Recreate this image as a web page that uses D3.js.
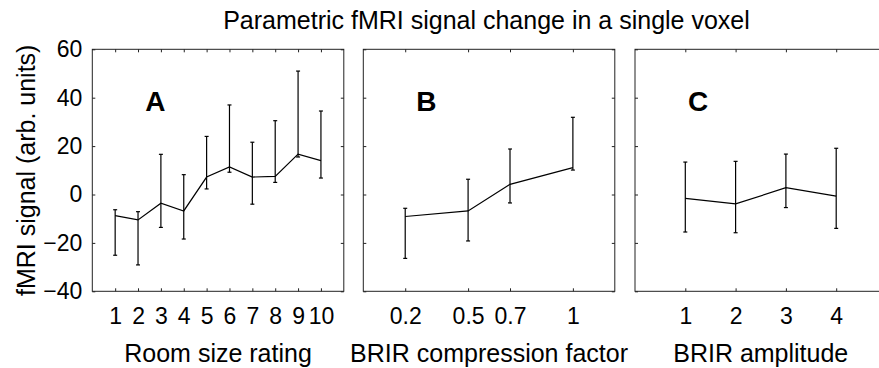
<!DOCTYPE html>
<html>
<head>
<meta charset="utf-8">
<script src="https://cdn.jsdelivr.net/npm/d3@7"></script>
<style>
  html, body { margin: 0; padding: 0; background: #fff; }
  svg { display: block; font-family: "Liberation Sans", Arial, Helvetica, sans-serif; }
  .axis path.domain { display: none; }
  .axis line { stroke: #222; }
  .axis text { fill: #000; font-size: 23px; }
</style>
</head>
<body>
<svg id="chart" width="879" height="368"></svg>
<script>
const roomRating = [1, 2, 3, 4, 5, 6, 7, 8, 9, 10];
const roomMean  = [-8.7, -10.5, -3.6, -6.8, 7.2, 11.4, 7.2, 7.5, 16.7, 14.0];
const roomUpper = [-6.3, -7.1, 16.6, 8.2, 24.0, 37.0, 21.6, 30.5, 51.0, 34.5];
const roomLower = [-25.1, -29.1, -13.6, -18.4, 2.3, 9.2, -4.0, 5.0, 15.5, 6.8];

const compression = [0.2, 0.5, 0.7, 1];
const compMean  = [-9.1, -6.8, 4.2, 11.1];
const compUpper = [-5.7, 6.3, 18.8, 31.9];
const compLower = [-26.4, -19.2, -3.5, 10.1];

const amplitude = [1, 2, 3, 4];
const ampMean  = [-1.6, -3.9, 2.8, -0.7];
const ampUpper = [13.4, 13.7, 16.7, 19.1];
const ampLower = [-15.5, -15.8, -5.4, -14.0];

const yTicks = [-40, -20, 0, 20, 40, 60];
const title = "Parametric fMRI signal change in a single voxel";
const yLabel = "fMRI signal (arb. units)";

const panels = [
  { letter: "A", label: "Room size rating", x: roomRating, mean: roomMean, upper: roomUpper, lower: roomLower,
    domain: [0, 11], ticks: roomRating, fmt: d3.format("d") },
  { letter: "B", label: "BRIR compression factor", x: compression, mean: compMean, upper: compUpper, lower: compLower,
    domain: [0, 1.2], ticks: compression, fmt: d => String(d) },
  { letter: "C", label: "BRIR amplitude", x: amplitude, mean: ampMean, upper: ampUpper, lower: ampLower,
    domain: [0, 5], ticks: amplitude, fmt: d3.format("d") }
];

const svg = d3.select("#chart");

const plotTop = 49.3, plotH = 242, plotW = 251.5;
const lefts = [92.3, 363.3, 635];
const y = d3.scaleLinear().domain([-40, 60]).range([plotTop + plotH, plotTop]);

svg.append("text")
  .attr("x", 486.5).attr("y", 29)
  .attr("text-anchor", "middle")
  .style("font-size", "25px")
  .text(title);

svg.append("text")
  .attr("transform", `translate(35,${plotTop + plotH / 2}) rotate(-90)`)
  .attr("text-anchor", "middle")
  .style("font-size", "25px")
  .text(yLabel);

panels.forEach((p, i) => {
  const left = lefts[i];
  const x = d3.scaleLinear().domain(p.domain).range([left, left + plotW]);
  const g = svg.append("g");

  // box around each panel (panel C runs off the right edge, as in the original)
  g.append("rect")
    .attr("x", left).attr("y", plotTop)
    .attr("width", plotW).attr("height", plotH)
    .attr("fill", "none").attr("stroke", "#222").attr("stroke-width", 1);

  g.append("g").attr("class", "axis")
    .attr("transform", `translate(0,${plotTop + plotH})`)
    .call(d3.axisBottom(x).tickValues(p.ticks).tickFormat(p.fmt).tickSizeInner(-3).tickSizeOuter(0).tickPadding(16));

  g.append("g").attr("class", "axis")
    .attr("transform", `translate(0,${plotTop})`)
    .call(d3.axisTop(x).tickValues(p.ticks).tickFormat("").tickSizeInner(-3).tickSizeOuter(0));

  g.append("g").attr("class", "axis")
    .attr("transform", `translate(${left},0)`)
    .call(d3.axisLeft(y).tickValues(yTicks).tickFormat(i === 0 ? d3.format("d") : "").tickSizeInner(-3).tickSizeOuter(0).tickPadding(10));

  g.append("g").attr("class", "axis")
    .attr("transform", `translate(${left + plotW},0)`)
    .call(d3.axisRight(y).tickValues(yTicks).tickFormat("").tickSizeInner(-3).tickSizeOuter(0));

  const pts = p.x.map((v, j) => ({ x: v, m: p.mean[j], hi: p.upper[j], lo: p.lower[j] }));

  g.append("path")
    .datum(pts)
    .attr("fill", "none").attr("stroke", "#000").attr("stroke-width", 1.2)
    .attr("d", d3.line().x(d => x(d.x)).y(d => y(d.m)));

  const bars = g.append("g").selectAll("g").data(pts).join("g");
  bars.append("line")
    .attr("x1", d => x(d.x)).attr("x2", d => x(d.x))
    .attr("y1", d => y(d.hi)).attr("y2", d => y(d.lo))
    .attr("stroke", "#000").attr("stroke-width", 1.2);
  [d => d.hi, d => d.lo].forEach(acc => {
    bars.append("line")
      .attr("x1", d => x(d.x) - 2).attr("x2", d => x(d.x) + 2)
      .attr("y1", d => y(acc(d))).attr("y2", d => y(acc(d)))
      .attr("stroke", "#000").attr("stroke-width", 1.2);
  });

  g.append("text")
    .attr("x", left + 53).attr("y", plotTop + 62)
    .style("font-size", "28px").style("font-weight", "bold")
    .text(p.letter);

  g.append("text")
    .attr("x", left + plotW / 2).attr("y", 362)
    .attr("text-anchor", "middle")
    .style("font-size", "25px")
    .text(p.label);
});
</script>
</body>
</html>
